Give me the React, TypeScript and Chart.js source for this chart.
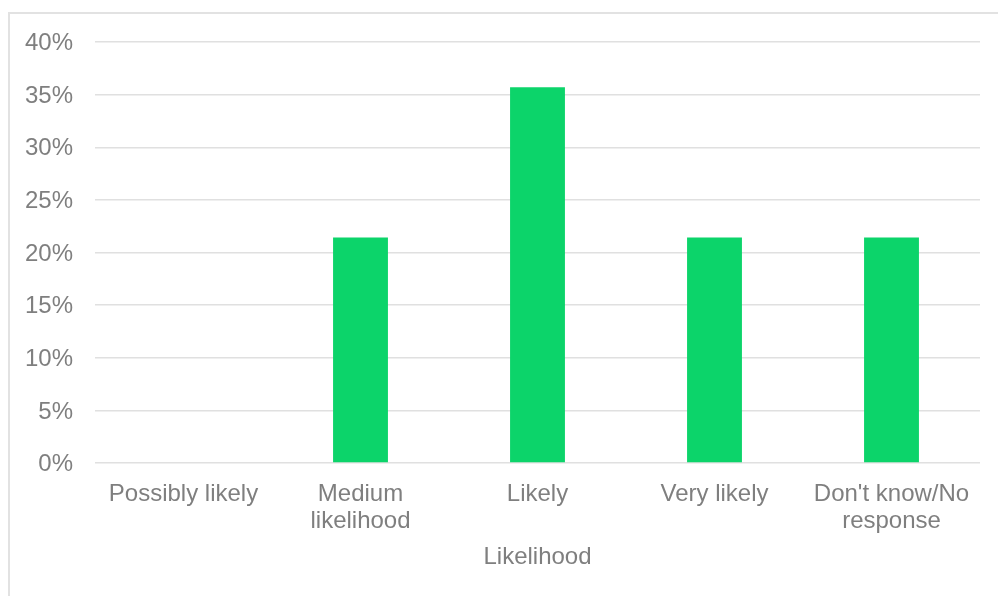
import React, { useEffect, useRef } from "react";
import { Chart, registerables } from "chart.js";

Chart.register(...registerables);

// Share of responses by likelihood (percent)
const categories: (string | string[])[] = [
  "Possibly likely",
  ["Medium", "likelihood"],
  "Likely",
  "Very likely",
  ["Don't know/No", "response"],
];
const shares: number[] = [0, 21.43, 35.71, 21.43, 21.43];
const yTicks: number[] = [0, 5, 10, 15, 20, 25, 30, 35, 40];
const axisTitle = "Likelihood";

const TEXT = "#7f7f7f";
const GRID = "#e0e0e0";
const BAR = "#0cd46a";
const FONT = "'Liberation Sans', Arial, sans-serif";

export default function App() {
  const canvasRef = useRef<HTMLCanvasElement | null>(null);

  useEffect(() => {
    const canvas = canvasRef.current;
    if (!canvas) return;
    const chart = new Chart(canvas, {
      type: "bar",
      data: {
        labels: categories,
        datasets: [
          {
            data: shares,
            backgroundColor: BAR,
            borderWidth: 0,
            categoryPercentage: 1,
            barPercentage: 0.31,
          },
        ],
      },
      options: {
        animation: false,
        responsive: false,
        devicePixelRatio: 1,
        layout: { padding: { top: 42, right: 18, bottom: 0, left: 0 } },
        plugins: {
          legend: { display: false },
          tooltip: { enabled: false },
        },
        scales: {
          x: {
            grid: { display: false, drawTicks: false },
            border: { display: false },
            ticks: {
              color: TEXT,
              padding: 18,
              maxRotation: 0,
              autoSkip: false,
              font: { family: FONT, size: 24, lineHeight: 1.12 },
            },
            title: {
              display: true,
              text: axisTitle,
              color: TEXT,
              font: { family: FONT, size: 24, lineHeight: 1.12 },
              padding: { top: 0, bottom: 25 },
            },
            afterFit: (scale: any) => {
              scale.height = 133;
            },
          },
          y: {
            min: 0,
            max: 40,
            grid: { color: GRID, lineWidth: 1.5, drawTicks: false },
            border: { display: false },
            afterBuildTicks: (scale: any) => {
              scale.ticks = yTicks.map((v) => ({ value: v }));
            },
            ticks: {
              color: TEXT,
              padding: 22,
              labelOffset: 1.5,
              font: { family: FONT, size: 24 },
              callback: (v: any) => `${v}%`,
            },
            afterFit: (scale: any) => {
              scale.width = 95;
            },
          },
        },
      },
    });
    return () => chart.destroy();
  }, []);

  return (
    <div style={{ position: "absolute", left: 0, top: 0, width: 998, height: 596, overflow: "hidden", background: "#fff" }}>
      <div
        style={{
          position: "absolute",
          left: 8,
          top: 12,
          width: 1010,
          height: 620,
          border: "2px solid #e2e2e2",
          boxSizing: "border-box",
        }}
      />
      <canvas
        ref={canvasRef}
        width={998}
        height={596}
        style={{ position: "absolute", left: 0, top: 0, display: "block" }}
      />
    </div>
  );
}
